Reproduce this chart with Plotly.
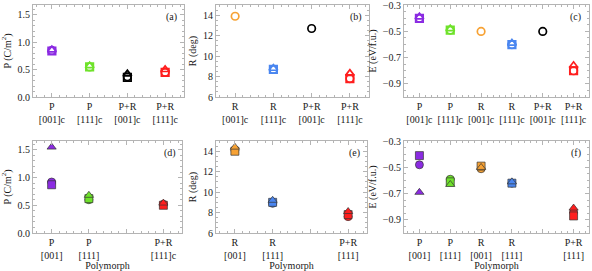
import plotly.graph_objects as go

# ---------------- colours ----------------
PURPLE = "#8B2BE2"
GREEN = "#6FE22B"
ORANGE = "#F7A234"
BLUE = "#4A86F0"
BLACK = "#000000"
RED = "#FF1E1E"

# ---------------- data ----------------
# (a) polarization, relaxed-cell polymorphs
a_cats = ["P<br>[001]c", "P<br>[111]c", "P+R<br>[001]c", "P+R<br>[111]c"]
a_colors = [PURPLE, GREEN, BLACK, RED]
a_circle = [0.85, 0.55, 0.37, 0.45]
a_square = [0.84, 0.55, 0.36, 0.45]
a_triangle = [0.86, 0.57, 0.42, 0.50]

# (b) rotation angle
b_cats = ["R<br>[001]c", "R<br>[111]c", "P+R<br>[001]c", "P+R<br>[111]c"]
b_colors = [ORANGE, BLUE, BLACK, RED]
b_circle = [13.9, 8.7, 12.7, 7.8]
b_square = [None, 8.7, None, 7.8]
b_triangle = [None, 8.8, None, 8.3]

# (c) energy
c_cats = ["P<br>[001]c", "P<br>[111]c", "R<br>[001]c", "R<br>[111]c", "P+R<br>[001]c", "P+R<br>[111]c"]
c_colors = [PURPLE, GREEN, ORANGE, BLUE, BLACK, RED]
c_circle = [-0.40, -0.49, -0.50, -0.60, -0.50, -0.80]
c_square = [-0.40, -0.49, None, -0.60, None, -0.80]
c_triangle = [-0.39, -0.48, None, -0.59, None, -0.76]

# (d) polarization (blank slot keeps the spacing)
d_cats = ["P<br>[001]", "P<br>[111]", "", "P+R<br>[111]c"]
d_colors = [PURPLE, GREEN, BLACK, RED]
d_circle = [0.92, 0.60, None, 0.52]
d_square = [0.87, 0.62, None, 0.50]
d_triangle = [1.55, 0.68, None, 0.54]

# (e) rotation angle
e_cats = ["R<br>[001]", "R<br>[111]", "", "P+R<br>[111]"]
e_colors = [ORANGE, BLUE, BLACK, RED]
e_circle = [14.1, 8.9, None, 7.6]
e_square = [14.0, 9.0, None, 7.8]
e_triangle = [14.4, 9.2, None, 8.1]

# (f) energy
f_cats = ["P<br>[001]", "P<br>[111]", "R<br>[001]", "R<br>[111]", "", "P+R<br>[111]"]
f_colors = [PURPLE, GREEN, ORANGE, BLUE, BLACK, RED]
f_circle = [-0.48, -0.59, -0.51, -0.62, None, -0.84]
f_square = [-0.41, -0.61, -0.49, -0.62, None, -0.87]
f_triangle = [-0.69, -0.63, -0.50, -0.61, None, -0.81]

panels = [
    dict(cats=a_cats, colors=a_colors, vals=(a_circle, a_square, a_triangle), filled=False,
         label="(a)", ytitle="P (C/m<sup>2</sup>)", yrange=[0, 1.68], dtick=0.5, tick0=0, minor=0.1, fmt=".1f"),
    dict(cats=b_cats, colors=b_colors, vals=(b_circle, b_square, b_triangle), filled=False,
         label="(b)", ytitle="R (deg)", yrange=[6, 15], dtick=2, tick0=0, minor=0.5, fmt="d"),
    dict(cats=c_cats, colors=c_colors, vals=(c_circle, c_square, c_triangle), filled=False,
         label="(c)", ytitle="E (eV/f.u.)", yrange=[-1.0, -0.2985], dtick=0.2, tick0=-0.3, minor=0.05, fmt=".1f"),
    dict(cats=d_cats, colors=d_colors, vals=(d_circle, d_square, d_triangle), filled=True,
         label="(d)", ytitle="P (C/m<sup>2</sup>)", yrange=[0, 1.66], dtick=0.5, tick0=0, minor=0.1, fmt=".1f"),
    dict(cats=e_cats, colors=e_colors, vals=(e_circle, e_square, e_triangle), filled=True,
         label="(e)", ytitle="R (deg)", yrange=[6, 15], dtick=2, tick0=0, minor=0.5, fmt="d"),
    dict(cats=f_cats, colors=f_colors, vals=(f_circle, f_square, f_triangle), filled=True,
         label="(f)", ytitle="E (eV/f.u.)", yrange=[-1.0, -0.2985], dtick=0.2, tick0=-0.3, minor=0.05, fmt=".1f"),
]

W, H = 592, 271
# panel boxes in pixels (left, right, top, bottom)
boxes = [
    (33, 184, 5, 97), (216, 369, 5, 97), (404, 589, 5, 97),
    (33, 182, 141, 233), (216, 367, 141, 233), (404, 589, 141, 233),
]

FONT = "Liberation Serif"
FRAME = "#b4b4b4"
TXT = "#1a1a1a"

fig = go.Figure()
symbols = ["circle", "square", "triangle-up"]

for i, p in enumerate(panels):
    k = "" if i == 0 else str(i + 1)
    xs = list(range(1, len(p["cats"]) + 1))
    for sym, vals in zip(symbols, p["vals"]):
        if p["filled"]:
            marker = dict(symbol=sym, size=8, color=p["colors"],
                          line=dict(color="#333333", width=0.7))
        else:
            marker = dict(symbol=sym + "-open", size=7.5, color=p["colors"],
                          line=dict(width=1.7, color=p["colors"]))
        fig.add_trace(go.Scatter(x=xs, y=vals, mode="markers", marker=marker,
                                 xaxis="x" + k, yaxis="y" + k, showlegend=False,
                                 cliponaxis=False, hoverinfo="skip"))
    l, r, t, b = boxes[i]
    xa = dict(domain=[l / W, r / W], anchor="y" + k, range=[0.5, len(xs) + 0.5],
              automargin=False,
              tickmode="array", tickvals=xs, ticktext=p["cats"],
              ticks="inside", ticklen=4, tickcolor=FRAME,
              minor=dict(ticks="inside", ticklen=2, dtick=0.2, tick0=0, tickcolor=FRAME),
              showline=True, linecolor=FRAME, linewidth=1, mirror="ticks",
              showgrid=False, zeroline=False,
              tickfont=dict(family=FONT, size=10, color=TXT))
    if i >= 3:
        xa["title"] = dict(text="Polymorph", font=dict(family=FONT, size=10, color=TXT),
                           standoff=4)
    ya = dict(domain=[1 - b / H, 1 - t / H], anchor="x" + k, range=p["yrange"],
              automargin=False, ticklabeloverflow="allow",
              dtick=p["dtick"], tick0=p["tick0"], tickformat=p["fmt"],
              ticks="inside", ticklen=4, tickcolor=FRAME,
              minor=dict(ticks="inside", ticklen=2, dtick=p["minor"], tickcolor=FRAME),
              showline=True, linecolor=FRAME, linewidth=1, mirror="ticks",
              showgrid=False, zeroline=False,
              tickfont=dict(family=FONT, size=10, color=TXT),
              title=dict(text=p["ytitle"], font=dict(family=FONT, size=10, color=TXT),
                         standoff=4))
    fig.layout["xaxis" + k] = xa
    fig.layout["yaxis" + k] = ya
    fig.add_annotation(text=p["label"], xref="x" + k + " domain", yref="y" + k + " domain",
                       x=0.97, y=0.96, xanchor="right", yanchor="top", showarrow=False,
                       font=dict(family=FONT, size=10, color=TXT))

fig.update_layout(width=W, height=H, margin=dict(l=0, r=0, t=0, b=0),
                  plot_bgcolor="white", paper_bgcolor="white",
                  font=dict(family=FONT, size=10, color=TXT))
fig.write_html("out.html", config={"displayModeBar": False, "staticPlot": True},
               post_script="document.body.style.margin='0';document.body.style.overflow='hidden';")
